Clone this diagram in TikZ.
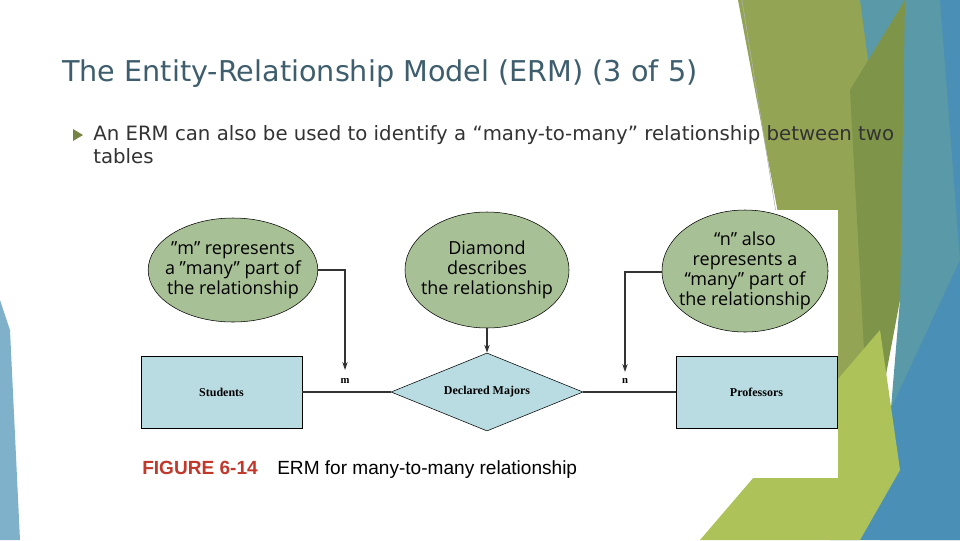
\documentclass[tikz,border=0pt]{standalone}
\usepackage{fontspec}
\setmainfont{DejaVu Sans}
\newfontfamily\ellf{Open Sans}
\newfontfamily\serf{Liberation Serif}
\newfontfamily\capf{Liberation Sans}
\usetikzlibrary{shapes.geometric,arrows.meta}
\definecolor{ttl}{HTML}{3E5E6E}
\definecolor{body}{HTML}{333333}
\definecolor{ellg}{HTML}{A8C096}
\definecolor{boxb}{HTML}{B8DCE2}
\definecolor{olive}{HTML}{93A455}
\definecolor{olived}{HTML}{7E9448}
\definecolor{lime}{HTML}{AEC25A}
\definecolor{teal}{HTML}{5A9AA8}
\definecolor{blu}{HTML}{4A8FB5}
\definecolor{figred}{HTML}{C0392B}
\tikzset{
 ell/.style={ellipse,draw=black,fill=ellg,thin,font=\ellf\fontsize{13.5}{15}\selectfont,align=center,inner sep=-6pt},
 ent/.style={rectangle,draw=black,fill=boxb,thin,font=\serf\bfseries\fontsize{9}{10}\selectfont},
 con/.style={draw=black!80,line width=0.9pt},
 arr/.style={con,-{Stealth[length=6pt,width=4pt]}}
}
\begin{document}
\begin{tikzpicture}[x=0.75pt,y=-0.75pt]
\useasboundingbox (0,0) rectangle (960,540);
\fill[white] (0,0) rectangle (960,540);
% background decorations
\fill[olive] (738,0) -- (905,0) -- (900,280) -- (860,470) -- (800,330) -- cycle;
\fill[teal] (860,0) -- (960,0) -- (960,540) -- (880,540) -- (900,300) -- cycle;
\fill[blu] (940,0) -- (960,0) -- (960,540) -- (830,540) -- (960,260) -- cycle;
\fill[olived] (850,90) -- (905,0) -- (900,300) -- (870,460) -- cycle;
\fill[lime] (700,540) -- (880,330) -- (900,470) -- (860,540) -- cycle;
\fill[blu!70] (0,300) -- (10,330) -- (20,540) -- (0,540) -- cycle;
\draw[gray!60,thin] (742,0) -- (790,300);
% title and text
\node[anchor=base west,text=ttl,font=\fontsize{21.5}{24}\selectfont,inner sep=0pt] (title) at (62,81) {The Entity-Relationship Model (ERM) (3 of 5)};
\fill[olive!80!black] (73,129) -- (83,135) -- (73,141) -- cycle;
\node[anchor=north west,text=body,font=\fontsize{14.8}{17.5}\selectfont,inner sep=0pt,align=left] (txt) at (93,125) {An ERM can also be used to identify a “many-to-many” relationship between two\\tables};
% figure
\fill[white] (130,210) rectangle (838,478);
\node[ell,minimum width=162pt*0.75,minimum height=104pt*0.75] (e1) at (233,270) {”m” represents\\a ”many” part of\\the relationship};
\node[ell,minimum width=164pt*0.75,minimum height=116pt*0.75] (e2) at (487,270) {Diamond\\describes\\the relationship};
\node[ell,minimum width=166pt*0.75,minimum height=122pt*0.75] (e3) at (745,271) {“n” also\\represents a\\“many” part of\\the relationship};
\node[ent,minimum width=161pt*0.75,minimum height=72pt*0.75] (s) at (221.5,392) {Students};
\node[ent,minimum width=161pt*0.75,minimum height=72pt*0.75] (p) at (756.5,392) {Professors};
\node[diamond,draw=black,fill=boxb,thin,aspect=2.45,minimum width=192pt*0.75,minimum height=78pt*0.75,inner sep=0pt,font=\serf\bfseries\fontsize{9}{10}\selectfont] (d) at (487,392) {Declared Majors};
\draw[con] (s.east) -- (d.west);
\draw[con] (d.east) -- (p.west);
\coordinate (a1) at (345,270);
\coordinate (b1) at (345,370);
\coordinate (a3) at (625,272);
\coordinate (b3) at (625,372);
\draw[arr] (e1.east |- a1) -- (a1) -- (b1);
\draw[arr] (e2.south) -- (d.north);
\draw[arr] (e3.west |- a3) -- (a3) -- (b3);
\node[font=\serf\bfseries\fontsize{8}{9}\selectfont] (m) at (345,381) {m};
\node[font=\serf\bfseries\fontsize{8}{9}\selectfont] (n) at (625,381) {n};
\node[anchor=base west,inner sep=0pt,font=\capf\bfseries\fontsize{14.3}{16}\selectfont,text=figred] (fig) at (142,474) {FIGURE 6-14};
\node[anchor=base west,inner sep=0pt,font=\capf\fontsize{14.3}{16}\selectfont] (cap) at (277,474) {ERM for many-to-many relationship};
\end{tikzpicture}
\end{document}
